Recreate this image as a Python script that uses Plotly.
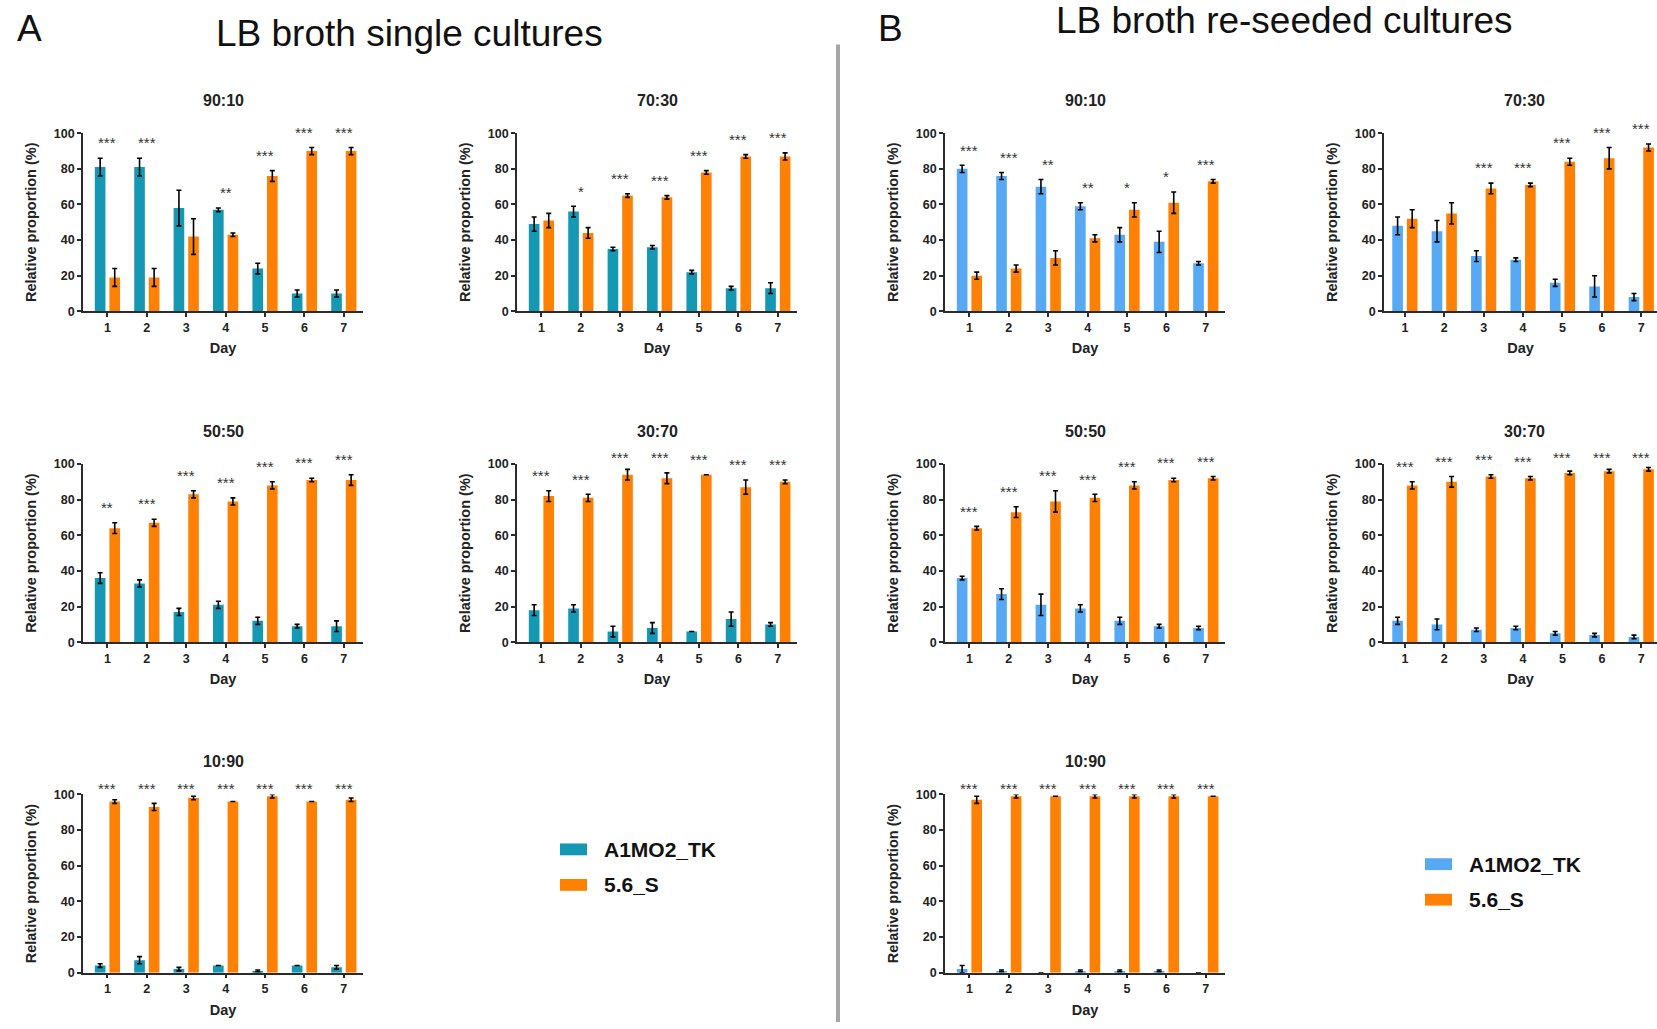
import plotly.graph_objects as go

W, H = 1657, 1029

days = [1, 2, 3, 4, 5, 6, 7]
day_labels = ["1", "2", "3", "4", "5", "6", "7"]
strains = ["A1MO2_TK", "5.6_S"]
y_ticks = [0, 20, 40, 60, 80, 100]

# ---- A: LB broth single cultures (mean %, SD) ----
a_9010_tk = [81, 81, 58, 57, 24, 10, 10]
a_9010_tk_sd = [5, 5, 10, 1, 3, 2, 2]
a_9010_s = [19, 19, 42, 43, 76, 90, 90]
a_9010_s_sd = [5, 5, 10, 1, 3, 2, 2]
a_9010_sig = ["***", "***", "", "**", "***", "***", "***"]

a_7030_tk = [49, 56, 35, 36, 22, 13, 13]
a_7030_tk_sd = [4, 3, 1, 1, 1, 1, 3]
a_7030_s = [51, 44, 65, 64, 78, 87, 87]
a_7030_s_sd = [4, 3, 1, 1, 1, 1, 2]
a_7030_sig = ["", "*", "***", "***", "***", "***", "***"]

a_5050_tk = [36, 33, 17, 21, 12, 9, 9]
a_5050_tk_sd = [3, 2, 2, 2, 2, 1, 3]
a_5050_s = [64, 67, 83, 79, 88, 91, 91]
a_5050_s_sd = [3, 2, 2, 2, 2, 1, 3]
a_5050_sig = ["**", "***", "***", "***", "***", "***", "***"]

a_3070_tk = [18, 19, 6, 8, 6, 13, 10]
a_3070_tk_sd = [3, 2, 3, 3, 0, 4, 1]
a_3070_s = [82, 81, 94, 92, 94, 87, 90]
a_3070_s_sd = [3, 2, 3, 3, 0, 4, 1]
a_3070_sig = ["***", "***", "***", "***", "***", "***", "***"]

a_1090_tk = [4, 7, 2, 4, 1, 4, 3]
a_1090_tk_sd = [1, 2, 1, 0, 0.5, 0, 1]
a_1090_s = [96, 93, 98, 96, 99, 96, 97]
a_1090_s_sd = [1, 2, 1, 0, 1, 0, 1]
a_1090_sig = ["***", "***", "***", "***", "***", "***", "***"]

# ---- B: LB broth re-seeded cultures (mean %, SD) ----
b_9010_tk = [80, 76, 70, 59, 43, 39, 27]
b_9010_tk_sd = [2, 2, 4, 2, 4, 6, 1]
b_9010_s = [20, 24, 30, 41, 57, 61, 73]
b_9010_s_sd = [2, 2, 4, 2, 4, 6, 1]
b_9010_sig = ["***", "***", "**", "**", "*", "*", "***"]

b_7030_tk = [48, 45, 31, 29, 16, 14, 8]
b_7030_tk_sd = [5, 6, 3, 1, 2, 6, 2]
b_7030_s = [52, 55, 69, 71, 84, 86, 92]
b_7030_s_sd = [5, 6, 3, 1, 2, 6, 2]
b_7030_sig = ["", "", "***", "***", "***", "***", "***"]

b_5050_tk = [36, 27, 21, 19, 12, 9, 8]
b_5050_tk_sd = [1, 3, 6, 2, 2, 1, 1]
b_5050_s = [64, 73, 79, 81, 88, 91, 92]
b_5050_s_sd = [1, 3, 6, 2, 2, 1, 1]
b_5050_sig = ["***", "***", "***", "***", "***", "***", "***"]

b_3070_tk = [12, 10, 7, 8, 5, 4, 3]
b_3070_tk_sd = [2, 3, 1, 1, 1, 1, 1]
b_3070_s = [88, 90, 93, 92, 95, 96, 97]
b_3070_s_sd = [2, 3, 1, 1, 1, 1, 1]
b_3070_sig = ["***", "***", "***", "***", "***", "***", "***"]

b_1090_tk = [2, 1, 0, 1, 1, 1, 0]
b_1090_tk_sd = [2, 0.5, 0, 0.5, 0.5, 0.5, 0]
b_1090_s = [97, 99, 99, 99, 99, 99, 99]
b_1090_s_sd = [2, 1, 0, 1, 1, 1, 0]
b_1090_sig = ["***", "***", "***", "***", "***", "***", "***"]

TEAL = "#1598b4"
SKY = "#58a9f4"
ORANGE = "#ff8104"
AXIS = "#2b2b2b"
FONT = "Liberation Sans, Arial, sans-serif"

# plot-area boxes in pixels: left, right, top, bottom
COLS = {"a1": (83, 363), "a2": (517, 797), "b1": (945, 1225), "b2": (1384, 1664)}
ROWS = {1: (128, 308.5), 2: (463.3, 644), 3: (798.3, 979)}
# x-range start per column (keeps day 1 where it sits on each axis)
X_START = {"a1": 0.38, "a2": 0.38, "b1": 0.38, "b2": 0.47}

panels = [
    ("90:10", "a1", 1, TEAL, a_9010_tk, a_9010_tk_sd, a_9010_s, a_9010_s_sd, a_9010_sig),
    ("70:30", "a2", 1, TEAL, a_7030_tk, a_7030_tk_sd, a_7030_s, a_7030_s_sd, a_7030_sig),
    ("50:50", "a1", 2, TEAL, a_5050_tk, a_5050_tk_sd, a_5050_s, a_5050_s_sd, a_5050_sig),
    ("30:70", "a2", 2, TEAL, a_3070_tk, a_3070_tk_sd, a_3070_s, a_3070_s_sd, a_3070_sig),
    ("10:90", "a1", 3, TEAL, a_1090_tk, a_1090_tk_sd, a_1090_s, a_1090_s_sd, a_1090_sig),
    ("90:10", "b1", 1, SKY, b_9010_tk, b_9010_tk_sd, b_9010_s, b_9010_s_sd, b_9010_sig),
    ("70:30", "b2", 1, SKY, b_7030_tk, b_7030_tk_sd, b_7030_s, b_7030_s_sd, b_7030_sig),
    ("50:50", "b1", 2, SKY, b_5050_tk, b_5050_tk_sd, b_5050_s, b_5050_s_sd, b_5050_sig),
    ("30:70", "b2", 2, SKY, b_3070_tk, b_3070_tk_sd, b_3070_s, b_3070_s_sd, b_3070_sig),
    ("10:90", "b1", 3, SKY, b_1090_tk, b_1090_tk_sd, b_1090_s, b_1090_s_sd, b_1090_sig),
]

PX_PER_DAY = 39.4


def px_x(p):
    return p / W


def px_y(p):
    return 1 - p / H


fig = go.Figure()
layout = {}
annotations = []
shapes = []

for i, (title, col, row, c1, v1, e1, v2, e2, sig) in enumerate(panels, start=1):
    xs = "" if i == 1 else str(i)
    l, r = COLS[col]
    t, b = ROWS[row]
    r_vis = min(r, W)
    x0 = X_START[col]
    err_style = dict(type="data", color="black", thickness=1.6, width=2.5)
    fig.add_trace(go.Bar(x=days, y=v1, name=strains[0], marker=dict(color=c1, line_width=0),
                         error_y=dict(array=e1, **err_style), xaxis="x" + xs, yaxis="y" + xs,
                         showlegend=False))
    fig.add_trace(go.Bar(x=days, y=v2, name=strains[1], marker=dict(color=ORANGE, line_width=0),
                         error_y=dict(array=e2, **err_style), xaxis="x" + xs, yaxis="y" + xs,
                         showlegend=False))
    x_end = x0 + (r_vis - l) / PX_PER_DAY
    y_lo, y_hi = px_y(b), px_y(t)
    layout["xaxis" + xs] = dict(
        domain=[px_x(l), px_x(r_vis)], anchor="y" + xs, range=[x0, x_end],
        tickvals=days, ticktext=day_labels, ticks="outside", ticklen=4, tickwidth=1.5,
        tickcolor=AXIS, showline=True, linecolor=AXIS, linewidth=1.6, showgrid=False,
        zeroline=False, tickfont=dict(family=FONT, size=12.5, color="#222", weight="bold"),
        title=dict(text="Day", font=dict(family=FONT, size=14.5, color="#222", weight="bold"),
                   standoff=9),
    )
    layout["yaxis" + xs] = dict(
        domain=[y_lo, y_hi], anchor="x" + xs, range=[0, 100], tickvals=y_ticks,
        ticks="outside", ticklen=4, tickwidth=1.5, tickcolor=AXIS, showline=True,
        linecolor=AXIS, linewidth=1.6, showgrid=False, zeroline=False,
        tickfont=dict(family=FONT, size=12.5, color="#222", weight="bold"),
        title=dict(text="Relative proportion (%)",
                   font=dict(family=FONT, size=14.5, color="#222", weight="bold"), standoff=14),
    )
    annotations.append(dict(text="<b>" + title + "</b>", x=px_x(l + 140), y=px_y(t - 33),
                            xref="paper", yref="paper", showarrow=False,
                            font=dict(family=FONT, size=16, color="#222"),
                            xanchor="center", yanchor="middle"))
    # significance marks above each day, placed in paper space so they may sit above 100 %
    for d, s, a, ea, o, eo in zip(days, sig, v1, e1, v2, e2):
        if not s:
            continue
        top = min(max(a + ea, o + eo) + 8, 103)
        annotations.append(dict(text=s, x=d, y=y_lo + (y_hi - y_lo) * top / 100,
                                xref="x" + xs, yref="paper", showarrow=False, yshift=1,
                                font=dict(family=FONT, size=15, color="#333"),
                                xanchor="center", yanchor="middle"))

# section letters and headings
heads = [
    dict(text="A", x=px_x(15), y=px_y(22), xanchor="left"),
    dict(text="LB broth single cultures", x=px_x(409), y=px_y(27), xanchor="center"),
    dict(text="B", x=px_x(876), y=px_y(22), xanchor="left"),
    dict(text="LB broth re-seeded cultures", x=px_x(1284), y=px_y(14), xanchor="center"),
]
for hd in heads:
    hd.update(xref="paper", yref="paper", showarrow=False, yanchor="middle",
              font=dict(family=FONT, size=37, color="#111"))
annotations += heads

# divider between A and B
shapes.append(dict(type="line", xref="paper", yref="paper", x0=px_x(838), x1=px_x(838),
                   y0=px_y(38), y1=0, line=dict(color="#a6a6a6", width=4)))

# legends for A and B
for (lx, ly, c1) in [(560, 854, TEAL), (1425, 869, SKY)]:
    for k, (name, col) in enumerate(zip(strains, [c1, ORANGE])):
        cy = ly + k * 36
        shapes.append(dict(type="rect", xref="paper", yref="paper", x0=px_x(lx), x1=px_x(lx + 27),
                           y0=px_y(cy + 6), y1=px_y(cy - 6), fillcolor=col, line_width=0))
        annotations.append(dict(text="<b>" + name + "</b>", x=px_x(lx + 42), y=px_y(cy),
                                xref="paper", yref="paper", showarrow=False, xanchor="left",
                                yanchor="middle", font=dict(family=FONT, size=21, color="#111")))

fig.update_layout(
    width=W, height=H, margin=dict(l=0, r=0, t=0, b=0), paper_bgcolor="white",
    plot_bgcolor="white", barmode="group", bargap=0.26, bargroupgap=0.27,
    annotations=annotations, shapes=shapes, showlegend=False, **layout,
)

fig.write_html("out.html")
